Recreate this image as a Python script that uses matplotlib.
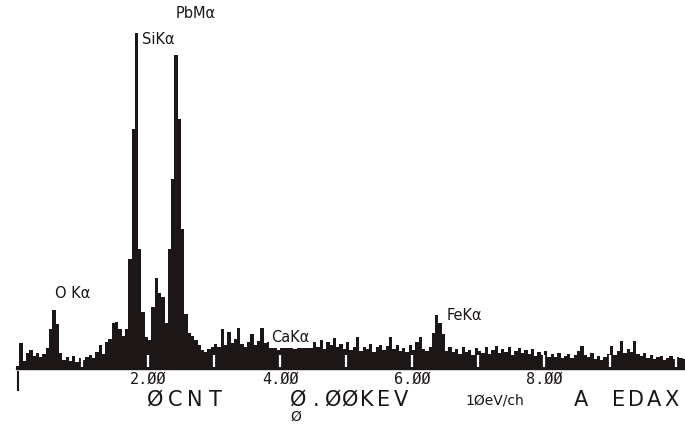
import numpy as np
import matplotlib
import matplotlib.pyplot as plt

matplotlib.use("Agg")

# spectrum: counts per 0.05 keV channel group
bin_width = 0.05
counts = [
    3, 26, 8, 16, 19, 13, 16, 12, 15, 21,
    40, 59, 45, 16, 9, 12, 8, 13, 7, 11,
    9, 12, 14, 11, 17, 24, 15, 27, 30, 46,
    47, 40, 33, 40, 110, 240, 336, 120, 57, 32,
    29, 62, 91, 76, 72, 46, 120, 190, 314, 250,
    140, 55, 36, 33, 29, 24, 19, 17, 20, 22,
    25, 22, 40, 24, 37, 26, 30, 41, 25, 22,
    27, 35, 24, 28, 41, 26, 27, 22, 24, 19,
    23, 25, 21, 24, 20, 23, 26, 22, 24, 21,
    27, 22, 29, 20, 27, 24, 31, 22, 25, 20,
    27, 19, 22, 32, 18, 22, 20, 25, 17, 22,
    24, 19, 23, 32, 20, 24, 18, 21, 17, 24,
    19, 27, 32, 20, 18, 22, 36, 54, 46, 35,
    18, 22, 17, 20, 15, 22, 17, 19, 14, 21,
    18, 16, 22, 15, 19, 23, 16, 20, 17, 22,
    14, 18, 21, 16, 19, 15, 20, 13, 17, 14,
    18, 12, 15, 12, 16, 11, 13, 15, 11, 14,
    18, 23, 14, 12, 16, 10, 13, 9, 12, 15,
    23, 14, 18, 28, 16, 20, 17, 28, 15, 13,
    16, 11, 14, 10, 12, 13, 9, 11, 13, 10,
    12, 11, 10,
]

peak_names = ["PbMα", "SiKα", "O Kα", "CaKα", "FeKα"]
peak_label_x = [2.42, 1.91, 0.59, 3.86, 6.52]
peak_label_y = [356, 329, 75, 31, 54]

tick_kev = [2, 4, 6, 8]
marker_kev = [1, 2, 3, 4, 5, 6, 7, 8, 9, 10]

W, H = 685, 425
ink = "#1c1616"

fig = plt.figure(figsize=(W / 100, H / 100), dpi=100)
ax = fig.add_axes([16 / W, (H - 369) / H, (W - 16) / W, 369 / H])

edges = np.arange(len(counts) + 1) * bin_width
ax.stairs(counts, edges, fill=True, color=ink, linewidth=0)

ax.set_xlim(0, (W - 16) / 66)
ax.set_ylim(0, 369)

# white keV markers cut into the spectrum
ax.vlines(marker_kev, 2, 14, color="white", lw=1.6)

for s in ["top", "left", "right"]:
    ax.spines[s].set_visible(False)
ax.spines["bottom"].set_color(ink)
ax.spines["bottom"].set_linewidth(1.0)
ax.set_yticks([])
ax.set_xticks(tick_kev)
ax.set_xticklabels([("%.2f" % t).replace("0", "Ø") for t in tick_kev],
                   family="DejaVu Sans Mono", fontsize=11, color=ink)
ax.tick_params(axis="x", length=0, pad=2)

# start marker under the axis
ax.plot([0.03, 0.03], [-3, -21], color=ink, lw=1.5, clip_on=False)

for name, x, y in zip(peak_names, peak_label_x, peak_label_y):
    box = None
    if name == "CaKα":
        box = dict(facecolor="white", edgecolor="none", pad=1.5)
    ax.text(x, y, name, fontsize=10.5, color=ink, va="center", ha="left",
            family="DejaVu Sans", bbox=box)


def wide_text(x0, yc, s, pitch, size, va="center"):
    # plotter-style text, one fixed cell per char
    for i, ch in enumerate(s):
        fig.text((x0 + pitch * (i + 0.5)) / W, 1 - yc / H, ch,
                 fontsize=size, color=ink, ha="center", va=va,
                 family="DejaVu Sans")


wide_text(145, 400, "ØCNT", 20, 15)
wide_text(290, 400, "Ø.ØØKEV", 17.1, 15)
fig.text(465 / W, 1 - 400 / H, "1ØeV/ch", fontsize=10, color=ink,
         ha="left", va="center", family="DejaVu Sans")
wide_text(572, 400, "A", 18, 15)
wide_text(610, 400, "EDAX", 17.5, 15)
wide_text(289, 424, "Ø", 13, 10, va="bottom")

plt.savefig("out.png", dpi=100)
plt.close("all")
